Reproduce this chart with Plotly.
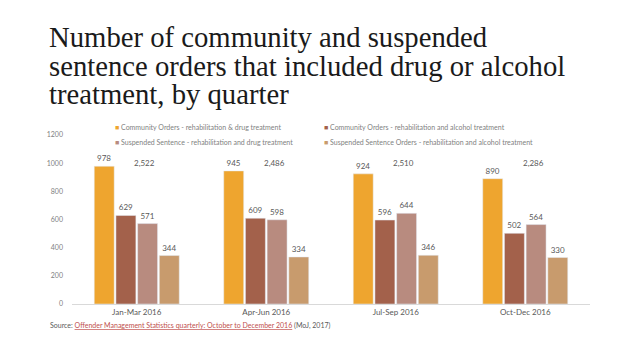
import plotly.graph_objects as go

quarters = ["Jan-Mar 2016", "Apr-Jun 2016", "Jul-Sep 2016", "Oct-Dec 2016"]
series_names = [
    "Community Orders - rehabilitation & drug treatment",
    "Community Orders - rehabilitation and alcohol treatment",
    "Suspended Sentence - rehabilitation and drug treatment",
    "Suspended Sentence Orders - rehabilitation and alcohol treatment",
]
co_drug = [978, 945, 924, 890]
co_alcohol = [629, 609, 596, 502]
ss_drug = [571, 598, 644, 564]
ss_alcohol = [344, 334, 346, 330]
totals = ["2,522", "2,486", "2,510", "2,286"]
y_ticks = [0, 200, 400, 600, 800, 1000, 1200]

colors = ["#EEA52F", "#A3614B", "#B88B7F", "#C89B6D"]
series_values = [co_drug, co_alcohol, ss_drug, ss_alcohol]

LABEL_FONT = "Lato, 'Open Sans', sans-serif"

# page body has an 8px margin on top/left; work in page pixels and offset
OFF = 8
W, H = 638 - OFF, 359 - OFF
ml, mr, mt, mb = 72 - OFF, 48, 135 - OFF, 55

fig = go.Figure()
for name, vals, col in zip(series_names, series_values, colors):
    fig.add_trace(go.Bar(
        name=name, x=quarters, y=vals, marker_color=col,
        text=[str(v) for v in vals], textposition="outside",
        textfont=dict(family=LABEL_FONT, size=8, color="#595959"),
        cliponaxis=False, showlegend=False,
    ))

fig.update_layout(
    width=W, height=H,
    margin=dict(l=ml, r=mr, t=mt, b=mb),
    paper_bgcolor="white", plot_bgcolor="white",
    barmode="group", bargap=0.33, bargroupgap=0.08,
    font=dict(family=LABEL_FONT, color="#595959"),
    xaxis=dict(showline=True, linecolor="#D9D9D9", linewidth=1, showgrid=False,
               ticks="", tickfont=dict(size=8, color="#595959")),
    yaxis=dict(range=[0, 1200], tickvals=y_ticks, showgrid=False, zeroline=False,
               showline=False, ticks="", ticklabelstandoff=8,
               tickfont=dict(size=7, color="#7F7F7F")),
)

plot_h = H - mt - mb
plot_w = W - ml - mr
def ypaper(pix):  # pix = page pixel from top
    return (H - mb - (pix - OFF)) / plot_h
def xpaper(pix):
    return ((pix - OFF) - ml) / plot_w

title_lines = [
    "Number of community and suspended",
    "sentence orders that included drug or alcohol",
    "treatment, by quarter",
]
for i, line in enumerate(title_lines):
    fig.add_annotation(text=line, xref="paper", yref="paper",
                       x=xpaper(47), y=ypaper(37 + 28.5 * i), xanchor="left", yanchor="middle",
                       showarrow=False,
                       font=dict(family="'Liberation Serif', 'DejaVu Serif', serif", size=28.7, color="#1A1A1A"))

leg_pos = [(113, 127), (322, 127), (113, 142), (322, 142)]
for (lx, ly), name, col in zip(leg_pos, series_names, colors):
    fig.add_annotation(text=f"<span style='color:{col}'>■</span> {name}",
                       xref="paper", yref="paper", x=xpaper(lx), y=ypaper(ly),
                       xanchor="left", yanchor="middle", showarrow=False,
                       font=dict(family=LABEL_FONT, size=7, color="#7F7F7F"))

for q, t in zip(quarters, totals):
    fig.add_annotation(text=t, x=q, y=1000, xref="x", yref="y", xshift=8,
                       yanchor="middle", showarrow=False,
                       font=dict(family=LABEL_FONT, size=8, color="#595959"))

fig.add_annotation(
    text="Source: <span style='color:#C0504D'><u>Offender Management Statistics quarterly: October to December 2016</u></span> (MoJ, 2017)",
    xref="paper", yref="paper", x=xpaper(48), y=ypaper(325), xanchor="left", yanchor="middle",
    showarrow=False, font=dict(family=LABEL_FONT, size=7, color="#595959"))

fig.write_html("out.html")
